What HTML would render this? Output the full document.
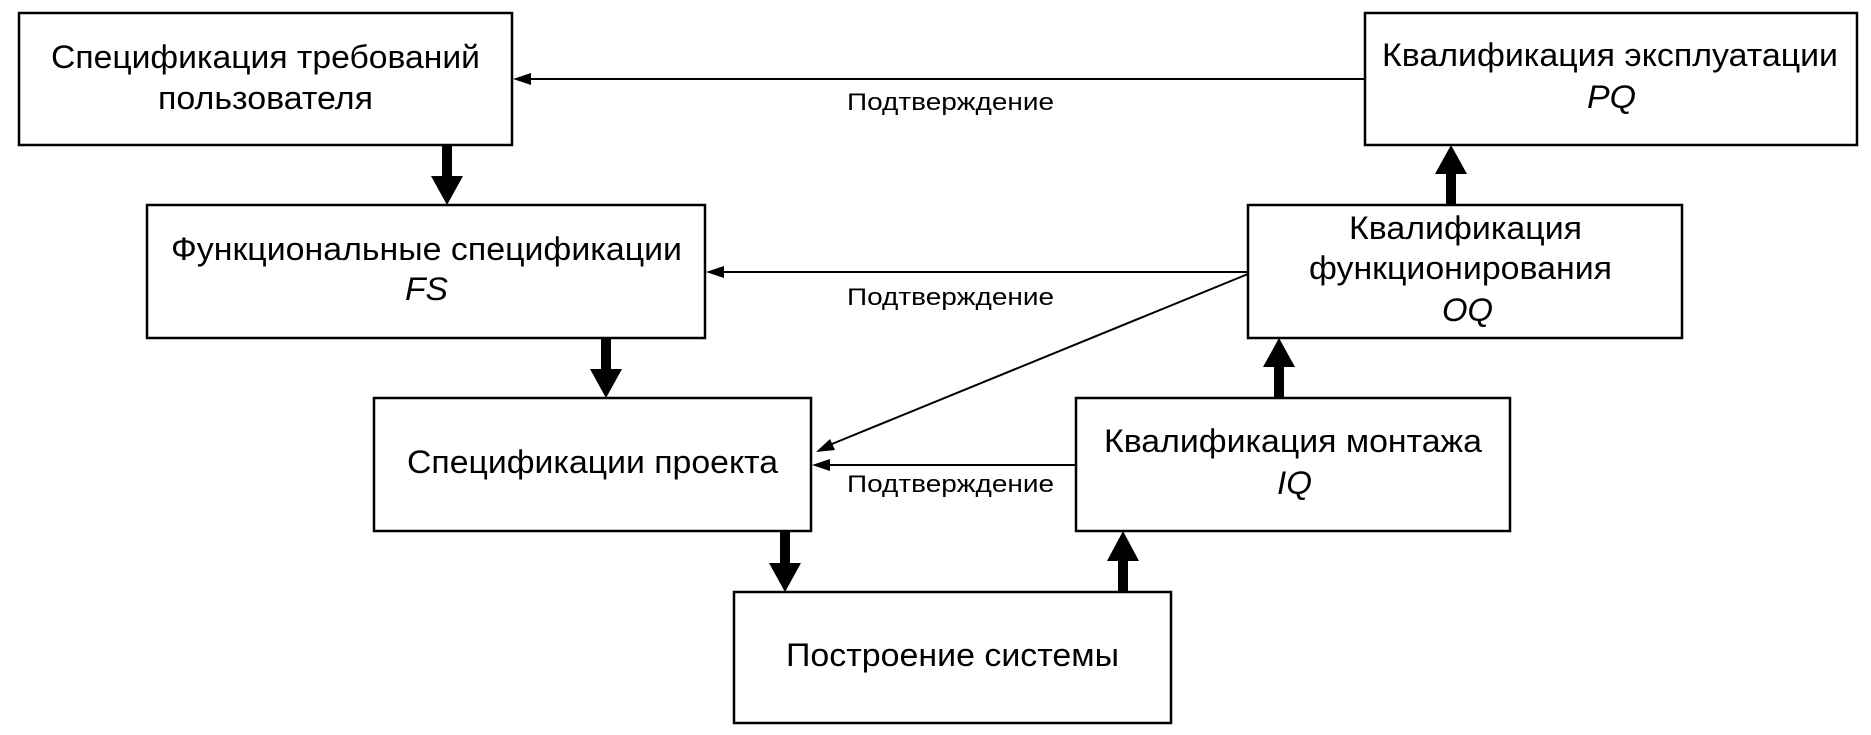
<!DOCTYPE html>
<html><head><meta charset="utf-8"><style>html,body{margin:0;padding:0;background:#fff}svg{display:block}</style></head>
<body>
<svg width="1871" height="735" viewBox="0 0 1871 735" xmlns="http://www.w3.org/2000/svg" font-family="Liberation Sans, DejaVu Sans, sans-serif" fill="#000">
<g fill="#fff" stroke="#000" stroke-width="2.5">
<rect x="19" y="13" width="493" height="132"/>
<rect x="147" y="205" width="558" height="133"/>
<rect x="374" y="398" width="437" height="133"/>
<rect x="734" y="592" width="437" height="131"/>
<rect x="1365" y="13" width="492" height="132"/>
<rect x="1248" y="205" width="434" height="133"/>
<rect x="1076" y="398" width="434" height="133"/>
</g>
<g stroke="#000" stroke-width="2">
<line x1="1365" y1="79" x2="525" y2="79"/>
<line x1="1248" y1="272" x2="718" y2="272"/>
<line x1="1076" y1="465" x2="824" y2="465"/>
<line x1="1248" y1="274" x2="827" y2="446"/>
</g>
<g>
<polygon points="513,79 531,73 531,85"/>
<polygon points="706,272 724,266 724,278"/>
<polygon points="812,465 830,459 830,471"/>
<polygon points="816,452 830,439 835,450"/>
</g>
<g>
<rect x="442" y="145" width="10" height="32"/><polygon points="431,176 463,176 447,205"/>
<rect x="601" y="338" width="10" height="32"/><polygon points="590,369 622,369 606,398"/>
<rect x="780" y="531" width="10" height="33"/><polygon points="769,563 801,563 785,592"/>
<rect x="1446" y="173" width="10" height="32"/><polygon points="1435,174 1467,174 1451,145"/>
<rect x="1274" y="366" width="10" height="32"/><polygon points="1263,367 1295,367 1279,338"/>
<rect x="1118" y="560" width="10" height="32"/><polygon points="1107,561 1139,561 1123,531"/>
</g>
<g font-size="32">
<text x="51" y="68" textLength="429" lengthAdjust="spacingAndGlyphs">Спецификация требований</text>
<text x="158" y="109" textLength="215" lengthAdjust="spacingAndGlyphs">пользователя</text>
<text x="171" y="260" textLength="511" lengthAdjust="spacingAndGlyphs">Функциональные спецификации</text>
<text x="405" y="300" textLength="43" lengthAdjust="spacingAndGlyphs" font-style="italic">FS</text>
<text x="407" y="473" textLength="371" lengthAdjust="spacingAndGlyphs">Спецификации проекта</text>
<text x="786" y="666" textLength="333" lengthAdjust="spacingAndGlyphs">Построение системы</text>
<text x="1382" y="66" textLength="456" lengthAdjust="spacingAndGlyphs">Квалификация эксплуатации</text>
<text x="1587" y="108" textLength="49" lengthAdjust="spacingAndGlyphs" font-style="italic">PQ</text>
<text x="1349" y="239" textLength="233" lengthAdjust="spacingAndGlyphs">Квалификация</text>
<text x="1309" y="279" textLength="303" lengthAdjust="spacingAndGlyphs">функционирования</text>
<text x="1442" y="321" textLength="51" lengthAdjust="spacingAndGlyphs" font-style="italic">OQ</text>
<text x="1104" y="452" textLength="378" lengthAdjust="spacingAndGlyphs">Квалификация монтажа</text>
<text x="1277" y="494" textLength="35" lengthAdjust="spacingAndGlyphs" font-style="italic">IQ</text>
</g>
<g font-size="24">
<text x="847" y="110" textLength="207" lengthAdjust="spacingAndGlyphs">Подтверждение</text>
<text x="847" y="305" textLength="207" lengthAdjust="spacingAndGlyphs">Подтверждение</text>
<text x="847" y="492" textLength="207" lengthAdjust="spacingAndGlyphs">Подтверждение</text>
</g>
</svg>
</body></html>
